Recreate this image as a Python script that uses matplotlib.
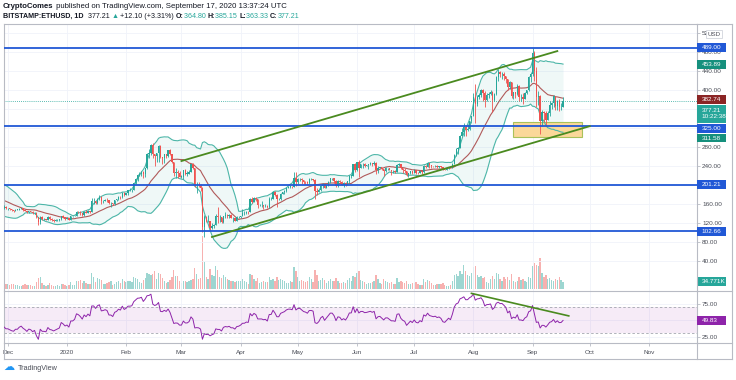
import numpy as np
import pandas as pd
import matplotlib
matplotlib.use('Agg')
import matplotlib.pyplot as plt
import matplotlib.dates as mdates
import matplotlib.transforms as mtransforms
from matplotlib.lines import Line2D
from matplotlib.patches import Rectangle
from matplotlib.ticker import FormatStrFormatter

plt.rcParams['font.family'] = ['Liberation Sans', 'DejaVu Sans']

# ---- BITSTAMP:ETHUSD daily candles (Nov 2019 - Sep 17 2020) ----
close_nov = [182, 183, 181, 186, 189, 191, 186, 184, 185, 189, 186, 187, 186, 184, 180, 183, 184, 178, 175, 175,
             161, 149, 152, 140, 147, 147, 152, 151, 155, 151]
high_nov = [184, 185, 184, 188, 192, 193, 192, 187, 186, 190, 193, 189, 188, 187, 185, 185, 187, 185, 179, 177,
            176, 162, 154, 153, 149, 150, 155, 154, 158, 156]
low_nov = [178, 180, 180, 179, 184, 187, 184, 182, 183, 184, 185, 184, 185, 183, 178, 179, 181, 176, 172, 172,
           159, 142, 146, 139, 133, 144, 145, 149, 149, 150]

close_dec = [151, 149, 147, 146, 148, 148, 150, 151, 148, 146, 143, 145, 144, 141, 142, 132, 122, 133, 128, 128,
             127, 132, 128, 127, 125, 126, 127, 128, 134, 132, 129]
high_dec = [152, 152, 149, 148, 149, 150, 151, 152, 152, 149, 146, 146, 146, 145, 143, 143, 133, 134, 134, 130,
            129, 134, 135, 130, 128, 128, 128, 129, 136, 138, 133]
low_dec = [147, 148, 145, 144, 145, 147, 147, 149, 146, 145, 142, 141, 143, 140, 140, 131, 116, 119, 126, 126,
           126, 127, 127, 124, 122, 125, 125, 125, 127, 130, 127]

close_jan = [130, 127, 134, 134, 136, 144, 143, 141, 138, 144, 142, 146, 144, 166, 166, 163, 171, 174, 166, 167,
             169, 168, 162, 162, 160, 168, 170, 175, 174, 184, 180]
high_jan = [133, 131, 135, 136, 138, 145, 146, 146, 142, 145, 148, 147, 146, 172, 172, 167, 173, 180, 177, 168,
            170, 172, 169, 164, 162, 169, 171, 177, 177, 186, 185]
low_jan = [128, 126, 126, 132, 134, 135, 141, 137, 135, 136, 141, 141, 142, 143, 160, 161, 161, 168, 160, 163,
           166, 165, 160, 153, 158, 159, 166, 169, 171, 172, 177]

close_feb = [183, 189, 189, 190, 204, 212, 222, 223, 228, 223, 236, 265, 268, 285, 265, 262, 267, 282, 259, 258,
             265, 262, 274, 265, 248, 225, 227, 226, 218]
high_feb = [184, 190, 194, 192, 206, 215, 224, 227, 229, 229, 237, 268, 277, 287, 289, 266, 268, 284, 284, 260,
            265, 266, 274, 276, 266, 249, 237, 232, 229]
low_feb = [179, 180, 187, 185, 189, 202, 209, 219, 220, 215, 218, 234, 258, 264, 258, 241, 248, 249, 256, 245,
           246, 258, 260, 264, 246, 219, 215, 215, 217]

close_mar = [218, 231, 224, 224, 228, 244, 237, 200, 201, 200, 194, 111, 133, 124, 125, 110, 114, 117, 136, 132,
             132, 122, 135, 138, 136, 138, 131, 131, 125, 132, 133]
high_mar = [222, 232, 234, 229, 232, 245, 246, 237, 207, 206, 202, 195, 138, 135, 137, 125, 120, 119, 140, 154,
            137, 133, 136, 143, 140, 140, 140, 133, 131, 134, 135]
low_mar = [216, 213, 221, 220, 223, 227, 233, 196, 183, 195, 187, 101, 90, 123, 123, 105, 108, 110, 117, 120,
           123, 121, 121, 131, 131, 131, 130, 123, 124, 124, 130]

close_apr = [136, 141, 141, 144, 143, 170, 164, 173, 170, 158, 158, 158, 156, 157, 153, 171, 171, 186, 180, 171,
             171, 182, 185, 188, 194, 197, 197, 196, 216, 206]
high_apr = [136, 149, 146, 146, 146, 172, 175, 174, 174, 171, 160, 167, 159, 160, 159, 174, 175, 188, 188, 181,
            173, 184, 186, 190, 195, 198, 199, 198, 227, 227]
low_apr = [131, 134, 138, 139, 140, 143, 162, 164, 167, 152, 156, 155, 150, 154, 152, 152, 168, 171, 178, 154,
           169, 169, 181, 182, 186, 194, 194, 194, 196, 199]

close_may = [212, 213, 210, 207, 206, 204, 212, 212, 211, 188, 186, 190, 199, 203, 194, 200, 207, 214, 214, 209,
             198, 208, 207, 201, 204, 201, 208, 220, 220, 244, 231]
high_may = [216, 216, 214, 211, 209, 209, 214, 215, 213, 212, 194, 193, 200, 205, 204, 200, 209, 215, 216, 215,
            210, 211, 211, 208, 206, 206, 209, 221, 221, 245, 247]
low_may = [203, 208, 203, 203, 203, 200, 202, 210, 209, 170, 179, 185, 188, 194, 193, 193, 199, 205, 210, 205,
           196, 197, 205, 200, 197, 198, 201, 205, 216, 219, 228]

close_jun = [248, 237, 244, 244, 241, 242, 244, 246, 244, 247, 231, 237, 238, 234, 230, 235, 235, 232, 229, 229,
             228, 243, 244, 236, 232, 230, 221, 225, 229, 226]
high_jun = [249, 253, 244, 246, 246, 243, 245, 248, 246, 250, 249, 240, 239, 239, 232, 239, 236, 236, 232, 231,
            232, 245, 247, 245, 235, 235, 230, 226, 229, 230]
low_jun = [230, 218, 237, 236, 239, 240, 234, 242, 241, 242, 224, 226, 235, 232, 219, 228, 231, 231, 222, 225,
           226, 227, 241, 233, 225, 226, 219, 218, 224, 223]

close_jul = [231, 226, 225, 229, 227, 241, 239, 246, 242, 241, 240, 241, 239, 240, 238, 233, 232, 235, 238, 236,
             245, 263, 275, 279, 304, 311, 322, 317, 318, 334, 345]
high_jul = [233, 232, 228, 230, 229, 242, 242, 248, 247, 242, 241, 243, 242, 241, 241, 238, 234, 236, 239, 239,
            247, 265, 279, 280, 306, 320, 330, 324, 328, 335, 346]
low_jul = [225, 223, 223, 225, 224, 226, 237, 238, 236, 236, 238, 238, 237, 237, 235, 231, 231, 231, 234, 235,
           235, 244, 261, 265, 278, 303, 304, 304, 313, 315, 331]

close_aug = [386, 371, 386, 389, 401, 394, 379, 390, 391, 395, 380, 391, 427, 437, 433, 434, 429, 423, 406, 416,
             387, 395, 391, 408, 385, 385, 382, 394, 400, 428, 434]
high_aug = [393, 413, 390, 393, 402, 402, 399, 394, 395, 400, 397, 393, 429, 445, 441, 439, 438, 430, 424, 418,
            417, 396, 396, 412, 410, 392, 394, 396, 401, 430, 439]
low_aug = [345, 330, 366, 381, 386, 378, 365, 377, 384, 389, 353, 376, 389, 418, 428, 423, 422, 414, 400, 403,
           383, 381, 384, 390, 378, 376, 371, 383, 391, 399, 417]

close_sep = [477, 440, 385, 388, 335, 353, 352, 337, 351, 368, 372, 387, 366, 377, 364, 365.11, 377.21]
high_sep = [488, 482, 449, 397, 389, 357, 356, 355, 356, 377, 375, 390, 387, 379, 381, 372, 385.15]
low_sep = [429, 419, 364, 369, 308, 325, 333, 324, 336, 346, 361, 365, 358, 359, 356, 357, 363.33]

first_open = 183.0
last_open = 364.80

# volume in thousands of ETH
vol_nov = [30, 28, 25, 32, 35, 33, 36, 30, 20, 22, 34, 30, 25, 30, 35, 20, 18, 35, 40, 30,
           60, 75, 45, 55, 70, 40, 45, 30, 30, 25]
vol_dec = [22, 20, 22, 25, 20, 18, 15, 14, 20, 22, 20, 18, 16, 15, 14, 35, 55, 60, 30, 20,
           12, 18, 30, 20, 15, 14, 18, 15, 25, 22, 20]
vol_jan = [15, 20, 35, 18, 16, 40, 38, 45, 30, 38, 28, 22, 25, 80, 60, 35, 55, 50, 45, 25,
           25, 28, 35, 40, 20, 25, 35, 40, 30, 50, 40]
vol_feb = [35, 40, 38, 35, 60, 55, 50, 35, 30, 45, 55, 80, 75, 70, 75, 85, 50, 80, 75, 55,
           40, 30, 35, 45, 60, 90, 65, 65, 40]
vol_mar = [30, 40, 40, 35, 38, 45, 50, 100, 75, 50, 55, 260, 130, 60, 50, 95, 70, 65, 110, 90,
           60, 55, 70, 60, 50, 45, 40, 40, 35, 40, 38]
vol_apr = [40, 50, 40, 35, 25, 75, 70, 50, 40, 55, 30, 35, 40, 35, 35, 60, 45, 50, 40, 60,
           45, 50, 45, 40, 30, 30, 40, 35, 105, 85]
vol_may = [60, 40, 45, 40, 35, 40, 60, 50, 35, 90, 70, 40, 45, 55, 45, 30, 40, 50, 40, 40,
           55, 40, 30, 30, 35, 30, 45, 55, 40, 65, 60]
vol_jun = [80, 85, 45, 40, 35, 25, 30, 30, 35, 40, 70, 50, 30, 25, 50, 40, 35, 30, 35, 25,
           25, 55, 35, 40, 35, 30, 40, 25, 25, 30]
vol_jul = [30, 35, 25, 20, 20, 50, 35, 45, 40, 30, 20, 20, 25, 25, 25, 30, 20, 15, 15, 20,
           40, 70, 75, 65, 85, 75, 115, 85, 70, 65, 80]
vol_aug = [105, 110, 70, 60, 65, 55, 60, 35, 30, 50, 65, 50, 80, 75, 50, 40, 60, 50, 60, 45,
           75, 40, 35, 40, 60, 45, 50, 40, 35, 60, 55]
vol_sep = [110, 125, 115, 110, 150, 80, 60, 70, 50, 55, 45, 40, 50, 45, 60, 45, 34.771]

# drawings on the chart
levels = [489.00, 325.00, 201.21, 102.66]
channel_top = (['2020-03-01', '2020-09-14'], [250.7, 482.0])
channel_bottom = (['2020-03-17', '2020-10-01'], [90.9, 324.0])
rsi_trend = (['2020-07-31', '2020-09-20'], [91.2, 56.8])
zone_dates = ['2020-08-22', '2020-09-27']
zone_prices = [302, 332]

month_ticks = ['2019-12-01', '2020-01-01', '2020-02-01', '2020-03-01', '2020-04-01', '2020-05-01',
               '2020-06-01', '2020-07-01', '2020-08-01', '2020-09-01', '2020-10-01', '2020-11-01']
month_labels = ['Dec', '2020', 'Feb', 'Mar', 'Apr', 'May', 'Jun', 'Jul', 'Aug', 'Sep', 'Oct', 'Nov']
price_ticks = [40, 80, 120, 160, 200, 240, 280, 320, 360, 400, 440, 480, 520]
hidden_ticks = [200, 320, 360]   # covered by the price tags on the scale
rsi_ticks = [25, 50, 75]

# ---- build series ----
close = np.array(close_nov + close_dec + close_jan + close_feb + close_mar + close_apr + close_may
                 + close_jun + close_jul + close_aug + close_sep, dtype=float)
high = np.array(high_nov + high_dec + high_jan + high_feb + high_mar + high_apr + high_may
                + high_jun + high_jul + high_aug + high_sep, dtype=float)
low = np.array(low_nov + low_dec + low_jan + low_feb + low_mar + low_apr + low_may
               + low_jun + low_jul + low_aug + low_sep, dtype=float)
volume = np.array(vol_nov + vol_dec + vol_jan + vol_feb + vol_mar + vol_apr + vol_may
                  + vol_jun + vol_jul + vol_aug + vol_sep, dtype=float)
opens = np.r_[first_open, close[:-1]]
opens[-1] = last_open
high = np.maximum(high, np.maximum(opens, close))
low = np.minimum(low, np.minimum(opens, close))
dates = pd.date_range('2019-11-01', periods=len(close), freq='D')

s = pd.Series(close, index=dates)
basis = s.rolling(20).mean()
dev = s.rolling(20).std(ddof=0)
bb_up = basis + 2 * dev
bb_lo = basis - 2 * dev

delta = s.diff()
gain = delta.clip(lower=0).ewm(alpha=1 / 14, adjust=False).mean()
loss = (-delta.clip(upper=0)).ewm(alpha=1 / 14, adjust=False).mean()
rsi = 100 - 100 / (1 + gain / loss)

# ---- colours ----
UP = '#26a69a'
DN = '#ef5350'
BLUE = '#2158d6'
BB_LINE = '#4db6a8'
BB_TAG = '#16907d'
BASIS = '#b05a5a'
GREEN = '#4a8a1f'
PURPLE = '#8e24aa'
BORDER = '#b8bbc4'
GRID = '#f0f3fa'
TXT = '#4a4d57'

# ---- figure / layout (pixels) ----
W, H = 736, 380
PANE_L, PANE_R = 4, 697
MAIN_T, MAIN_B = 23.5, 290.5
RSI_B = 343
TIME_B = 359
EDGE_R = 732
PANE_W = PANE_R - PANE_L


def fx(p):
    return p / W


def fy(p):
    return 1 - p / H


fig = plt.figure(figsize=(W / 100, H / 100), dpi=100)
fig.patch.set_facecolor('white')

ax = fig.add_axes([fx(PANE_L), fy(MAIN_B), PANE_W / W, (MAIN_B - MAIN_T) / H])
vax = ax.twinx()
ax.set_zorder(vax.get_zorder() + 1)
ax.patch.set_visible(False)
rax = fig.add_axes([fx(PANE_L), fy(RSI_B), PANE_W / W, (RSI_B - MAIN_B) / H], sharex=ax)

cols = np.where(close >= opens, UP, DN)

# volume
vax.bar(dates, volume, width=0.7, color=cols, alpha=0.45, linewidth=0)
vax.set_yticks([])
vax.tick_params(right=False, labelright=False)
for sp in vax.spines.values():
    sp.set_visible(False)

# bollinger bands
ax.fill_between(dates, bb_up, bb_lo, color=UP, alpha=0.07, linewidth=0, zorder=1)
ax.plot(dates, bb_up, color=BB_LINE, lw=0.8, zorder=2)
ax.plot(dates, bb_lo, color=BB_LINE, lw=0.8, zorder=2)
ax.plot(dates, basis, color=BASIS, lw=0.8, zorder=2)

# zone
z0, z1 = mdates.date2num(pd.to_datetime(zone_dates))
ax.add_patch(Rectangle((z0, zone_prices[0]), z1 - z0, zone_prices[1] - zone_prices[0],
                       facecolor='#fbd899', edgecolor='#a9c25a', lw=0.8, zorder=1.5))

# candles
ax.vlines(dates, low, high, colors=cols, lw=0.6, zorder=3)
ax.bar(dates, np.maximum(np.abs(close - opens), 0.8), bottom=np.minimum(opens, close),
       width=0.7, color=cols, linewidth=0, zorder=4)

# horizontal levels and trend lines
for lv in levels:
    ax.axhline(lv, color=BLUE, lw=1.3, zorder=5)
ax.axhline(close[-1], color=UP, lw=0.6, ls=(0, (1, 1.5)), zorder=2)
ax.plot(pd.to_datetime(channel_top[0]), channel_top[1], color=GREEN, lw=1.3, zorder=6)
ax.plot(pd.to_datetime(channel_bottom[0]), channel_bottom[1], color=GREEN, lw=1.3, zorder=6)

# RSI
rax.axhspan(30, 70, color='#9c27b0', alpha=0.09, lw=0)
rax.axhline(70, color='#a3a6af', lw=0.6, ls=(0, (3, 2.5)))
rax.axhline(30, color='#a3a6af', lw=0.6, ls=(0, (3, 2.5)))
rax.plot(dates, rsi, color=PURPLE, lw=0.7, zorder=3)
rax.plot(pd.to_datetime(rsi_trend[0]), rsi_trend[1], color=GREEN, lw=1.2, zorder=4)

# axes styling
for a in (ax, rax):
    a.yaxis.tick_right()
    a.tick_params(axis='y', length=2.2, width=0.6, color=BORDER, labelsize=4.6,
                  labelcolor=TXT, pad=1.5)
    a.grid(True, color=GRID, lw=0.6, zorder=0)
    a.set_axisbelow(True)
    for sp in a.spines.values():
        sp.set_color(BORDER)
        sp.set_linewidth(0.8)
rax.spines['top'].set_visible(False)

ax.set_yticks(price_ticks)
ax.set_yticklabels(['' if t in hidden_ticks else '%.2f' % t for t in price_ticks])
rax.set_yticks(rsi_ticks)
rax.yaxis.set_major_formatter(FormatStrFormatter('%.2f'))

rax.set_xticks(pd.to_datetime(month_ticks))
rax.set_xticklabels(month_labels)
rax.set_xlim(pd.Timestamp('2019-11-29'), pd.Timestamp('2020-11-26 05:00'))
rax.tick_params(axis='x', length=2, width=0.6, color=BORDER, labelsize=4.6, labelcolor=TXT, pad=3)
ax.tick_params(axis='x', length=0, labelbottom=False)


# price tags on the right scale
def tag(axis, value, text, color, px_unit, shift=0, rows=1):
    tr = mtransforms.blended_transform_factory(axis.transAxes, axis.transData)
    centre = value - shift / px_unit
    h = (8.5 + 9.5 * (rows - 1)) / px_unit
    axis.add_patch(Rectangle((1, centre - h / 2), 29 / PANE_W, h, transform=tr, facecolor=color,
                             edgecolor='none', clip_on=False, zorder=20))
    axis.text(1 + 4.5 / PANE_W, centre, text, transform=tr, color='white', fontsize=4.6,
              va='center', ha='left', clip_on=False, zorder=21, linespacing=1.45)


PX_PRICE = 0.4755
tag(ax, 489.00, '489.00', BLUE, PX_PRICE)
tag(ax, 453.89, '453.89', BB_TAG, PX_PRICE)
tag(ax, 382.74, '382.74', '#8b2525', PX_PRICE, shift=1)
tag(ax, 377.21, '377.21\n10:22:38', UP, PX_PRICE, shift=12.7, rows=2)
tag(ax, 325.00, '325.00', BLUE, PX_PRICE, shift=3)
tag(ax, 311.58, '311.58', BB_TAG, PX_PRICE, shift=6)
tag(ax, 201.21, '201.21', BLUE, PX_PRICE)
tag(ax, 102.66, '102.66', BLUE, PX_PRICE)
tag(vax, 34.771, '34.771K', UP, 0.2013)
tag(rax, 49.83, '49.83', PURPLE, 0.654)
ax.set_ylim(-21.7, 540)
vax.set_ylim(-9.4, 1317)
rax.set_ylim(15.4, 95.6)

fig.text(fx(714), fy(34), 'USD', fontsize=4.4, color=TXT, ha='center', va='center',
         bbox=dict(boxstyle='square,pad=0.3', fc='white', ec='#d1d4dc', lw=0.6), zorder=30)

# frame lines outside the panes
for x0, y0, x1, y1 in [(PANE_R, MAIN_T, EDGE_R, MAIN_T), (EDGE_R, MAIN_T, EDGE_R, TIME_B),
                       (PANE_R, MAIN_B, EDGE_R, MAIN_B), (PANE_R, RSI_B, EDGE_R, RSI_B),
                       (PANE_L, TIME_B, EDGE_R, TIME_B), (PANE_L, RSI_B, PANE_L, TIME_B),
                       (PANE_R, RSI_B, PANE_R, TIME_B)]:
    fig.add_artist(Line2D([fx(x0), fx(x1)], [fy(y0), fy(y1)], color=BORDER, lw=0.8))

# header
renderer = fig.canvas.get_renderer()


def header_line(x, y, pieces, size):
    for txt, color, weight in pieces:
        t = fig.text(fx(x), fy(y), txt, color=color, fontweight=weight, fontsize=size, va='center')
        x += t.get_window_extent(renderer=renderer).width


DARK = '#131722'
header_line(3, 6, [('CryptoComes', DARK, 'bold'),
                   (' published on TradingView.com, September 17, 2020 13:37:24 UTC', DARK, 'normal')], 5.6)
header_line(3, 16, [('BITSTAMP:ETHUSD, 1D', DARK, 'bold'), ('  377.21 ', DARK, 'normal'),
                    ('\u25b2', UP, 'normal'), (' +12.10 (+3.31%) ', DARK, 'normal'),
                    ('O:', DARK, 'bold'), ('364.80 ', UP, 'normal'),
                    ('H:', DARK, 'bold'), ('385.15 ', UP, 'normal'),
                    ('L:', DARK, 'bold'), ('363.33 ', UP, 'normal'),
                    ('C:', DARK, 'bold'), ('377.21', UP, 'normal')], 5.1)

# footer logo
fig.text(fx(3), fy(367), '\u2601', fontsize=8, color='#2196f3', va='center', family='DejaVu Sans')
fig.text(fx(18), fy(368), 'TradingView', fontsize=5.2, color=TXT, va='center')

fig.savefig('out.png', dpi=100)
